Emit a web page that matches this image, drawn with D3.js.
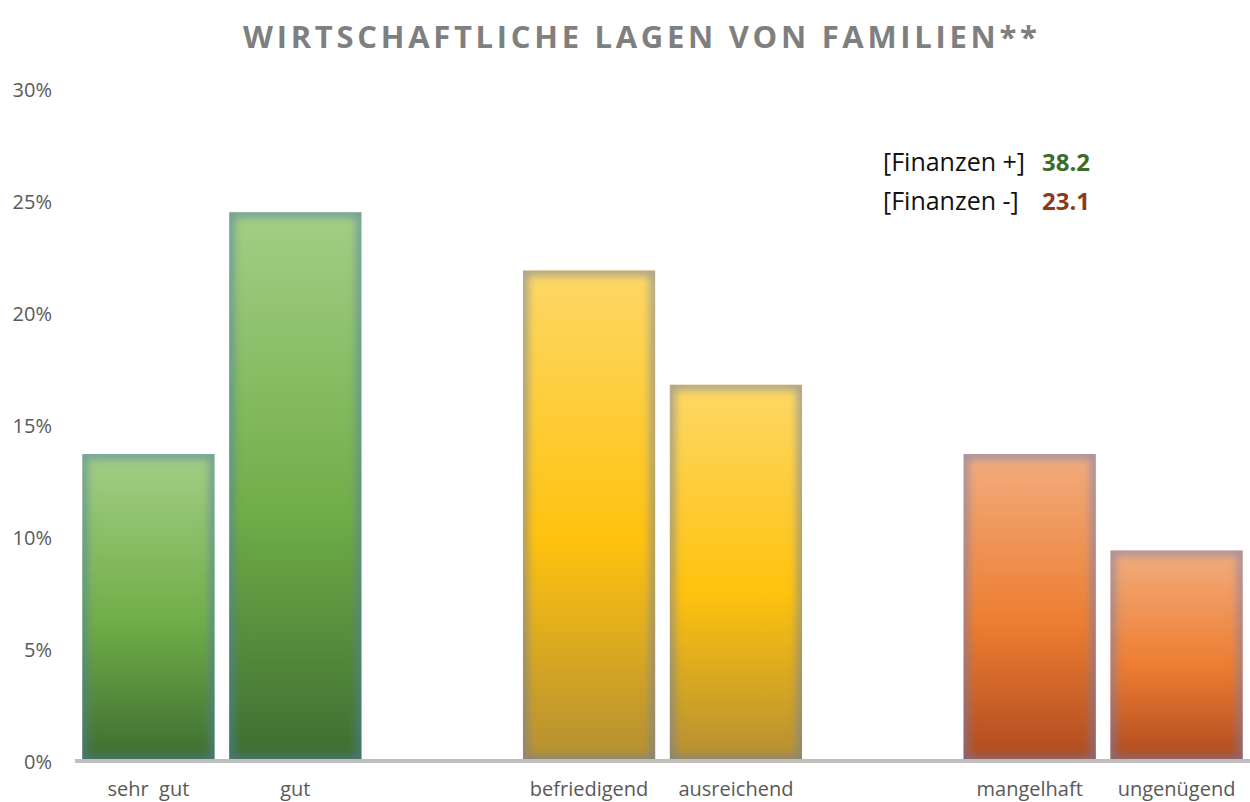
<!DOCTYPE html>
<html>
<head>
<meta charset="utf-8">
<script src="https://cdn.jsdelivr.net/npm/d3@7"></script>
<style>
  html, body { margin: 0; padding: 0; background: #fff; }
  svg { display: block; font-family: "Open Sans", "Noto Sans", sans-serif; }
</style>
</head>
<body>
<svg id="svg"></svg>
<script>
const svgWidth = 1250;
const svgHeight = 802;

// data
const categories = ["sehr gut", "gut", "", "befriedigend", "ausreichend", " ", "mangelhaft", "ungenügend"];
const values = [0.137, 0.245, null, 0.219, 0.168, null, 0.137, 0.094];
const groups = ["green", "green", null, "yellow", "yellow", null, "orange", "orange"];
const yTicks = [0, 0.05, 0.10, 0.15, 0.20, 0.25, 0.30];
const summaryLabels = ["[Finanzen +]", "[Finanzen -]"];
const summaryValues = ["38.2", "23.1"];

const gradients = {
  green: ["#a3cf85", "#70ad47", "#3d6d31"],
  yellow: ["#fdd866", "#ffc20e", "#b48f33"],
  orange: ["#f2ad7e", "#ed7d31", "#ae4a20"]
};
const glowColor = { green: "#4f7fa6", yellow: "#6a7fab", orange: "#6f7fb5" };

let svg = d3.select("#svg");

function initializeSVG() {
  svg.attr("width", svgWidth).attr("height", svgHeight);
  svg.selectAll("*").remove();
}

function makeChart() {
  const x = d3.scaleBand()
    .domain(categories)
    .range([75, 1250])
    .paddingInner(0.1)
    .paddingOuter(0.05);

  const y = d3.scaleLinear().domain([0, 0.30]).range([761, 89]);

  const defs = svg.append("defs");

  Object.keys(gradients).forEach(k => {
    const g = defs.append("linearGradient")
      .attr("id", "grad-" + k)
      .attr("x1", 0).attr("y1", 0).attr("x2", 0).attr("y2", 1);
    g.append("stop").attr("offset", "0%").attr("stop-color", gradients[k][0]);
    g.append("stop").attr("offset", "55%").attr("stop-color", gradients[k][1]);
    g.append("stop").attr("offset", "100%").attr("stop-color", gradients[k][2]);
  });

  defs.append("filter").attr("id", "soft")
    .attr("x", "-10%").attr("y", "-10%").attr("width", "120%").attr("height", "120%")
    .append("feGaussianBlur").attr("stdDeviation", 4);

  // title
  svg.append("text")
    .attr("x", 640)
    .attr("y", 48)
    .attr("text-anchor", "middle")
    .attr("textLength", 794)
    .attr("lengthAdjust", "spacing")
    .style("font-size", "31px")
    .style("font-weight", "bold")
    .style("fill", "#7f7f7f")
    .text("WIRTSCHAFTLICHE LAGEN VON FAMILIEN**");

  // y axis labels (no line)
  const yAxis = svg.append("g")
    .attr("transform", "translate(52,0)")
    .call(d3.axisLeft(y).tickValues(yTicks).tickFormat(d3.format(".0%")).tickSize(0).tickPadding(0));
  yAxis.select(".domain").remove();
  yAxis.selectAll("text")
    .attr("dy", "0.35em")
    .style("font-family", "'Open Sans', sans-serif")
    .style("font-size", "20px")
    .style("fill", "#595959");

  const data = categories.map((c, i) => ({ c, v: values[i], g: groups[i], i }))
    .filter(d => d.v !== null);

  const bars = svg.append("g");
  data.forEach(d => {
    const bx = x(d.c), bw = x.bandwidth();
    const by = y(d.v), bh = y(0) - y(d.v);
    defs.append("clipPath").attr("id", "clip-" + d.i)
      .append("rect").attr("x", bx).attr("y", by).attr("width", bw).attr("height", bh);
    bars.append("rect")
      .attr("x", bx).attr("y", by).attr("width", bw).attr("height", bh)
      .attr("fill", "url(#grad-" + d.g + ")");
    // soft inner glow along the edges
    bars.append("g")
      .attr("clip-path", "url(#clip-" + d.i + ")")
      .append("rect")
      .attr("x", bx).attr("y", by).attr("width", bw).attr("height", bh)
      .attr("fill", "none")
      .attr("stroke", glowColor[d.g])
      .attr("stroke-width", 10)
      .attr("stroke-opacity", 0.6)
      .attr("filter", "url(#soft)");
  });

  // baseline
  svg.append("line")
    .attr("x1", 75).attr("x2", 1250)
    .attr("y1", y(0)).attr("y2", y(0))
    .attr("stroke", "#bfbfbf")
    .attr("stroke-width", 4);

  // category labels
  svg.append("g")
    .selectAll("text")
    .data(categories.filter(c => c.trim() !== ""))
    .join("text")
    .attr("x", d => x(d) + x.bandwidth() / 2)
    .attr("y", 796)
    .attr("text-anchor", "middle")
    .style("font-size", "20px")
    .style("fill", "#595959")
    .text(d => d === "sehr gut" ? "sehr\u00a0 gut" : d);

  // summary box
  const sum = svg.append("g");
  const rowY = [171, 210];
  const numColor = ["#3a6b28", "#8c3a1a"];
  summaryLabels.forEach((lab, i) => {
    sum.append("text")
      .attr("x", 883).attr("y", rowY[i])
      .style("font-size", "25px")
      .style("fill", "#111")
      .text(lab);
    sum.append("text")
      .attr("x", 1042).attr("y", rowY[i])
      .style("font-size", "24px")
      .style("font-weight", "bold")
      .style("fill", numColor[i])
      .text(summaryValues[i]);
  });
}

initializeSVG();
makeChart();
</script>
</body>
</html>
